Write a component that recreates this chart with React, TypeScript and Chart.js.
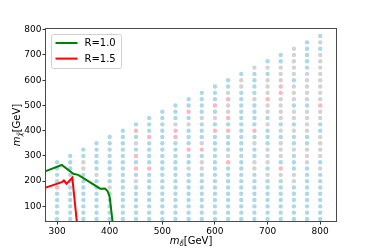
import React, { useEffect, useRef } from "react";
import { Chart, registerables } from "chart.js";

Chart.register(...registerables);

// scan grid (GeV)
const mDeltaGrid = [300, 325, 350, 375, 400, 425, 450, 475, 500, 525, 550, 575, 600, 625, 650, 675, 700, 725, 750, 775, 800];
const mChiGrid = [50, 75, 100, 125, 150, 175, 200, 225, 250, 275, 300, 325, 350, 375, 400, 425, 450, 475, 500, 525, 550, 575, 600, 625, 650, 675, 700, 725, 750, 775];

const pinkPoints: number[][] = [
  [300, 175],
  [450, 400], [450, 300], [450, 250],
  [475, 375], [475, 250],
  [525, 400], [525, 375],
  [550, 475], [550, 325],
  [575, 325],
  [600, 500], [600, 400],
  [625, 525], [625, 450], [625, 400], [625, 275],
  [675, 400],
  [700, 525],
  [725, 575], [725, 550], [725, 250],
  [800, 500],
];

const grayPoints: number[][] = [
  [350, 275], [350, 250], [375, 225], [400, 175],
  [450, 350], [450, 200],
  [525, 425], [550, 425],
  [550, 250], [575, 250], [575, 350], [575, 275], [575, 450], [600, 450],
  [625, 550], [625, 500], [625, 475], [625, 300],
  [650, 600], [650, 575],
  [675, 650], [675, 525], [675, 350], [675, 275], [675, 250],
  [700, 650], [700, 600], [700, 575], [700, 550], [700, 500], [700, 475], [700, 425], [700, 325], [700, 300], [700, 275], [700, 225],
  [725, 650], [725, 625], [725, 600], [725, 525], [725, 500], [725, 475], [725, 450], [725, 400], [725, 350], [725, 325], [725, 300], [725, 225],
  [750, 725], [750, 700], [750, 675], [750, 650], [750, 625], [750, 575], [750, 550], [750, 525], [750, 475], [750, 450], [750, 400], [750, 325], [750, 225], [750, 200],
  [775, 625], [775, 600], [775, 575], [775, 550], [775, 525], [775, 475], [775, 450], [775, 425], [775, 400], [775, 325], [775, 300], [775, 275],
  [800, 750], [800, 700], [800, 675], [800, 650], [800, 625], [800, 600], [800, 575], [800, 550], [800, 525], [800, 475], [800, 450], [800, 375], [800, 350], [800, 325], [800, 300], [800, 250],
];

// exclusion contours
const greenX = [275, 309, 331, 340, 347, 382, 391, 396, 400, 406];
const greenY = [237, 264, 229, 225, 216, 170, 171, 161, 137, 30];
const redX = [275, 309, 313, 318, 323, 329, 338];
const redY = [172, 196, 203, 190, 200, 214, 30];

const seriesLabels = ["R=1.0", "R=1.5"];
const seriesColors = ["#008000", "#ff0000"];

const xTicks = [300, 400, 500, 600, 700, 800];
const yTicks = [100, 200, 300, 400, 500, 600, 700, 800];

const FONT = "'DejaVu Sans', sans-serif";

function buildPoints() {
  const key = (x: number, y: number) => x + ":" + y;
  const pinkSet = new Set(pinkPoints.map((p) => key(p[0], p[1])));
  const graySet = new Set(grayPoints.map((p) => key(p[0], p[1])));
  const blue: { x: number; y: number }[] = [];
  for (const x of mDeltaGrid) {
    for (const y of mChiGrid) {
      if (y >= x) continue;
      const k = key(x, y);
      if (pinkSet.has(k) || graySet.has(k)) continue;
      blue.push({ x, y });
    }
  }
  return {
    blue,
    gray: grayPoints.map((p) => ({ x: p[0], y: p[1] })),
    pink: pinkPoints.map((p) => ({ x: p[0], y: p[1] })),
  };
}

function drawMathLabel(ctx: CanvasRenderingContext2D, sub: string) {
  const big = 10;
  const small = 7;
  ctx.font = `italic ${big}px ${FONT}`;
  const wm = ctx.measureText("m").width;
  ctx.font = `italic ${small}px ${FONT}`;
  const ws = ctx.measureText(sub).width;
  ctx.font = `${big}px ${FONT}`;
  const wg = ctx.measureText("[GeV]").width;
  const total = wm + ws + wg;
  let x = -total / 2;
  ctx.fillStyle = "#000";
  ctx.textBaseline = "alphabetic";
  ctx.textAlign = "left";
  ctx.font = `italic ${big}px ${FONT}`;
  ctx.fillText("m", x, 3.5);
  x += wm;
  ctx.font = `italic ${small}px ${FONT}`;
  ctx.fillText(sub, x, 6);
  x += ws;
  ctx.font = `${big}px ${FONT}`;
  ctx.fillText("[GeV]", x, 3.5);
}

const framePlugin = {
  id: "frameAndLabels",
  afterDraw(chart: any) {
    const { ctx, chartArea } = chart;
    const { left, right, top, bottom } = chartArea;
    ctx.save();
    // frame
    ctx.strokeStyle = "#4a4a4a";
    ctx.lineWidth = 1;
    ctx.strokeRect(left - 0.5, top - 0.5, right - left + 1, bottom - top + 1);

    // axis titles
    ctx.save();
    ctx.translate((left + right) / 2, 240);
    drawMathLabel(ctx, "δ\u0303");
    ctx.restore();
    ctx.save();
    ctx.translate(16, (top + bottom) / 2);
    ctx.rotate(-Math.PI / 2);
    drawMathLabel(ctx, "χ\u0303");
    ctx.restore();

    // legend
    const bx = left + 5.5;
    const by = top + 5.5;
    const bw = 70;
    const bh = 34;
    ctx.fillStyle = "rgba(255,255,255,0.85)";
    ctx.strokeStyle = "#d0d0d0";
    ctx.lineWidth = 1;
    ctx.beginPath();
    const r = 2;
    ctx.moveTo(bx + r, by);
    ctx.lineTo(bx + bw - r, by);
    ctx.quadraticCurveTo(bx + bw, by, bx + bw, by + r);
    ctx.lineTo(bx + bw, by + bh - r);
    ctx.quadraticCurveTo(bx + bw, by + bh, bx + bw - r, by + bh);
    ctx.lineTo(bx + r, by + bh);
    ctx.quadraticCurveTo(bx, by + bh, bx, by + bh - r);
    ctx.lineTo(bx, by + r);
    ctx.quadraticCurveTo(bx, by, bx + r, by);
    ctx.closePath();
    ctx.fill();
    ctx.stroke();
    seriesLabels.forEach((lab, i) => {
      const yy = by + 8.5 + i * 15.6;
      ctx.strokeStyle = seriesColors[i];
      ctx.lineWidth = 2;
      ctx.beginPath();
      ctx.moveTo(bx + 4, yy);
      ctx.lineTo(bx + 26, yy);
      ctx.stroke();
      ctx.fillStyle = "#000";
      ctx.font = `10px ${FONT}`;
      ctx.textBaseline = "middle";
      ctx.textAlign = "left";
      ctx.fillText(lab, bx + 33, yy + 0.5);
    });
    ctx.restore();
  },
};

export default function App() {
  const ref = useRef<HTMLCanvasElement>(null);

  useEffect(() => {
    document.body.style.margin = "0";
    const pts = buildPoints();
    const chart = new Chart(ref.current as HTMLCanvasElement, {
      type: "scatter",
      data: {
        datasets: [
          {
            label: seriesLabels[0],
            data: greenX.map((x, i) => ({ x, y: greenY[i] })),
            showLine: true,
            borderColor: seriesColors[0],
            borderWidth: 2,
            pointRadius: 0,
            fill: false,
            clip: 0,
          } as any,
          {
            label: seriesLabels[1],
            data: redX.map((x, i) => ({ x, y: redY[i] })),
            showLine: true,
            borderColor: seriesColors[1],
            borderWidth: 2,
            pointRadius: 0,
            fill: false,
            clip: 0,
          } as any,
          {
            label: "pink",
            data: pts.pink,
            backgroundColor: "#ffb6c1",
            borderWidth: 0,
            pointRadius: 2.2,
          },
          {
            label: "gray",
            data: pts.gray,
            backgroundColor: "#d3d3d3",
            borderWidth: 0,
            pointRadius: 2.2,
          },
          {
            label: "blue",
            data: pts.blue,
            backgroundColor: "#add8e6",
            borderWidth: 0,
            pointRadius: 2.2,
          },
        ],
      },
      options: {
        animation: false,
        responsive: true,
        maintainAspectRatio: false,
        events: [],
        layout: { padding: { top: 29, right: 38, left: 0, bottom: 0 } },
        plugins: { legend: { display: false }, tooltip: { enabled: false } },
        scales: {
          x: {
            type: "linear",
            min: 279,
            max: 830,
            afterBuildTicks: (s: any) => {
              s.ticks = xTicks.map((v) => ({ value: v }));
            },
            afterFit: (s: any) => {
              s.height = 28;
            },
            border: { display: false },
            grid: { drawOnChartArea: false, drawTicks: true, tickLength: 3.5, color: "#333", tickWidth: 1 } as any,
            ticks: { color: "#000", font: { family: FONT, size: 9 }, padding: 2, maxRotation: 0, autoSkip: false },
          },
          y: {
            type: "linear",
            min: 42,
            max: 803,
            afterBuildTicks: (s: any) => {
              s.ticks = yTicks.map((v) => ({ value: v }));
            },
            afterFit: (s: any) => {
              s.width = 46;
            },
            border: { display: false },
            grid: { drawOnChartArea: false, drawTicks: true, tickLength: 3.5, color: "#333", tickWidth: 1 } as any,
            ticks: { color: "#000", font: { family: FONT, size: 9 }, padding: 1, autoSkip: false },
          },
        },
      },
      plugins: [framePlugin],
    });
    return () => chart.destroy();
  }, []);

  return (
    <div style={{ width: 374, height: 249, position: "relative" }}>
      <canvas ref={ref} />
    </div>
  );
}
